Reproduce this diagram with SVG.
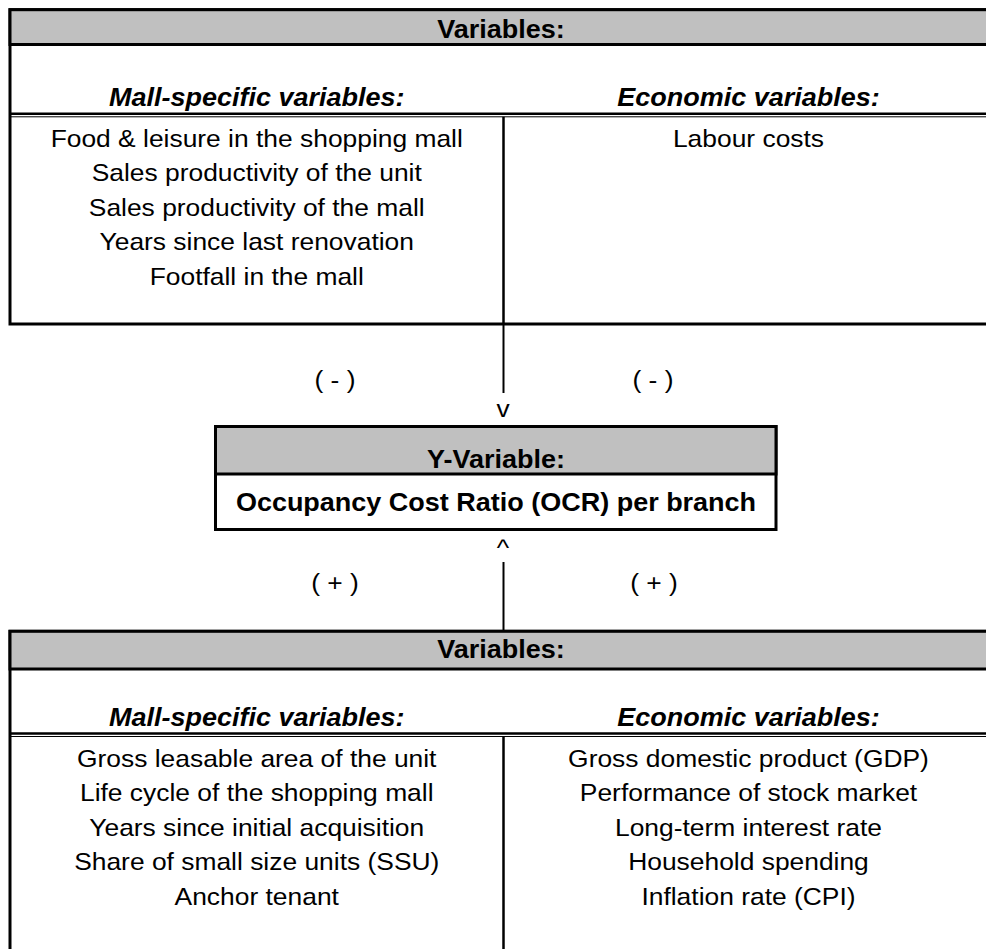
<svg xmlns="http://www.w3.org/2000/svg" width="986" height="949" viewBox="0 0 986 949">
  <style>
    .t { font-family: "Liberation Sans", Arial, sans-serif; font-size: 24px; fill: #000; text-anchor: middle; transform-box: fill-box; transform-origin: center; transform: scaleX(1.1); }
    .b { font-weight: bold; font-size: 25px; transform: scaleX(1.08); }
    .bi { font-weight: bold; font-style: italic; font-size: 25px; transform: scaleX(1.08); }
    .box { fill: #fff; stroke: #000; stroke-width: 3; }
    .hdr { fill: #C0C0C0; stroke: #000; stroke-width: 3; }
    .thick { stroke: #000; stroke-width: 2.5; fill: none; }
    .thin { stroke: #000; stroke-width: 1; fill: none; }
    .conn { stroke: #000; stroke-width: 2; fill: none; }
  </style>
  <rect x="0" y="0" width="986" height="949" fill="#fff"/>

  <g id="top-variables">
    <rect class="box" x="10" y="9.7" width="983" height="314.3"/>
    <rect class="hdr" x="10" y="9.7" width="983" height="34.8"/>
    <text class="t b" x="501" y="38.5">Variables:</text>
    <text class="t bi" x="256.75" y="106.5">Mall-specific variables:</text>
    <text class="t bi" x="748.5" y="106.5">Economic variables:</text>
    <line class="thick" x1="10" y1="113.8" x2="993" y2="113.8"/>
    <line class="thin" x1="10" y1="116.8" x2="993" y2="116.8"/>
    <line class="thick" x1="503.5" y1="116.8" x2="503.5" y2="324"/>
    <text class="t" x="256.75" y="147">Food &amp; leisure in the shopping mall</text>
    <text class="t" x="256.75" y="181.5">Sales productivity of the unit</text>
    <text class="t" x="256.75" y="216">Sales productivity of the mall</text>
    <text class="t" x="256.75" y="250.5">Years since last renovation</text>
    <text class="t" x="256.75" y="285">Footfall in the mall</text>
    <text class="t" x="748.5" y="147">Labour costs</text>
  </g>

  <g id="y-variable">
    <rect class="box" x="215.5" y="426.5" width="560.5" height="103"/>
    <rect class="hdr" x="215.5" y="426.5" width="560.5" height="47.5"/>
    <text class="t b" x="496" y="468">Y-Variable:</text>
    <text class="t b" x="496" y="511">Occupancy Cost Ratio (OCR) per branch</text>
  </g>

  <g id="bottom-variables">
    <rect class="box" x="10" y="631.3" width="983" height="340"/>
    <rect class="hdr" x="10" y="631.3" width="983" height="37.7"/>
    <text class="t b" x="501" y="658">Variables:</text>
    <text class="t bi" x="256.75" y="726">Mall-specific variables:</text>
    <text class="t bi" x="748.5" y="726">Economic variables:</text>
    <line class="thick" x1="10" y1="733.5" x2="993" y2="733.5"/>
    <line class="thin" x1="10" y1="736.5" x2="993" y2="736.5"/>
    <line class="thick" x1="503.5" y1="736.5" x2="503.5" y2="960"/>
    <text class="t" x="256.75" y="767">Gross leasable area of the unit</text>
    <text class="t" x="256.75" y="801.5">Life cycle of the shopping mall</text>
    <text class="t" x="256.75" y="836">Years since initial acquisition</text>
    <text class="t" x="256.75" y="870.5">Share of small size units (SSU)</text>
    <text class="t" x="256.75" y="905">Anchor tenant</text>
    <text class="t" x="748.5" y="767">Gross domestic product (GDP)</text>
    <text class="t" x="748.5" y="801.5">Performance of stock market</text>
    <text class="t" x="748.5" y="836">Long-term interest rate</text>
    <text class="t" x="748.5" y="870.5">Household spending</text>
    <text class="t" x="748.5" y="905">Inflation rate (CPI)</text>
  </g>

  <g id="connectors">
    <line class="conn" x1="503.5" y1="324" x2="503.5" y2="393"/>
    <text class="t" x="503" y="417">v</text>
    <text class="t" x="335" y="388">( - )</text>
    <text class="t" x="653" y="388">( - )</text>
    <line class="conn" x1="503.5" y1="562" x2="503.5" y2="631.3"/>
    <text class="t" x="503" y="556">^</text>
    <text class="t" x="335" y="591">( + )</text>
    <text class="t" x="654" y="591">( + )</text>
  </g>
</svg>
